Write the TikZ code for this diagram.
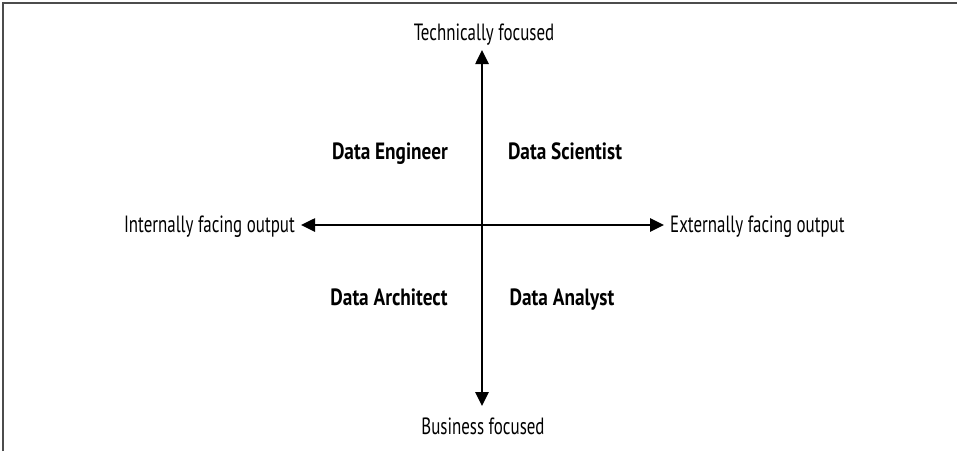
\documentclass[tikz,border=0pt]{standalone}
\usepackage{fontspec}
\setmainfont{PT Sans}[FakeStretch=0.72,BoldFeatures={FakeStretch=0.82}]
\usetikzlibrary{arrows.meta}
\begin{document}
\begin{tikzpicture}[x=1pt,y=-1pt,
  axis/.style={line width=2.6pt,-{Triangle[length=14pt,width=13pt]},shorten >=-1pt},
  lab/.style={font=\fontsize{23.5}{28}\selectfont,anchor=base,inner sep=0pt},
  role/.style={font=\fontsize{23.5}{28}\selectfont\bfseries,anchor=base,inner sep=0pt}]
\useasboundingbox (0,0) rectangle (957,451);
\draw[line width=1.2pt,black!70] (3,451) -- (3,3) -- (957,3);
\coordinate (c) at (482,225);
\coordinate (top) at (482,51);
\coordinate (bot) at (482,405);
\coordinate (lft) at (302,225);
\coordinate (rgt) at (663,225);
\draw[axis] (c) -- (top);
\draw[axis] (c) -- (bot);
\draw[axis] (c) -- (lft);
\draw[axis] (c) -- (rgt);
\node[lab] (tf) at (484,40) {Technically focused};
\node[lab] (bf) at (483,434) {Business focused};
\node[lab,anchor=base east] (ifo) at (295,232) {Internally facing output};
\node[lab,anchor=base west] (efo) at (670,232) {Externally facing output};
\node[role] (de) at (390,159) {Data Engineer};
\node[role] (ds) at (565,159) {Data Scientist};
\node[role] (da) at (389,305) {Data Architect};
\node[role] (dn) at (562,305) {Data Analyst};
\end{tikzpicture}
\end{document}
